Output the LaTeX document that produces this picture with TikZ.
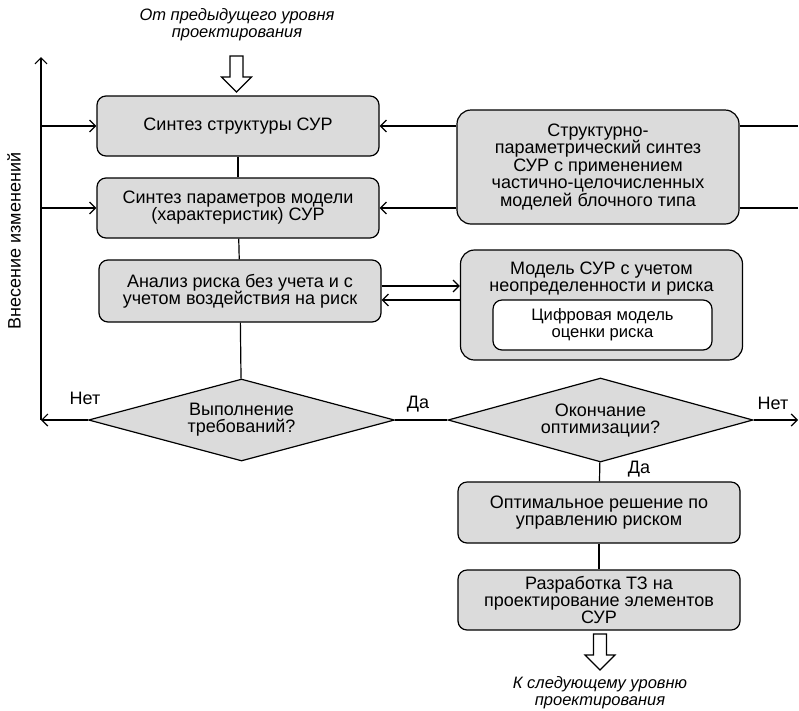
\documentclass[tikz,border=0pt]{standalone}
\usepackage{fontspec}
\setmainfont{Liberation Sans}
\usetikzlibrary{shapes.geometric, arrows.meta}
\newcommand\boxfont{\fontsize{18}{17}\selectfont\lineskiplimit=-20pt\relax}
\newcommand\synthfont{\fontsize{18}{17.5}\selectfont\lineskiplimit=-20pt\relax}
\tikzset{
  block/.style={
    draw,
    line width=1.2pt,
    fill=black!14,
    rounded corners=9pt,
    minimum width=282pt,
    minimum height=60pt,
    align=center,
    font=\boxfont
  },
  decision/.style={
    draw,
    line width=1.2pt,
    fill=black!14,
    diamond,
    aspect=3.7,
    inner sep=0pt,
    minimum width=306pt,
    minimum height=82pt,
    align=center,
    font=\boxfont
  },
  link/.style={line width=1.2pt},
  flow/.style={
    line width=1.2pt,
    -{Straight Barb[length=6pt,width=12pt]}
  },
  answer/.style={font=\boxfont},
  level/.style={font=\fontsize{16.5}{17}\selectfont\itshape, align=center},
  hollowarrow/.pic={
    \draw[line width=1.2pt, fill=white] (-6.5,0) -- (6.5,0) -- (6.5,21) -- (15,21)
      -- (0,36) -- (-15,21) -- (-6.5,21) -- cycle;
  }
}

\begin{document}
\begin{tikzpicture}[x=1pt, y=-1pt]
  \useasboundingbox (0,0) rectangle (799,710);

  % main chain
  \node[level] (from) at (237,25) {От предыдущего уровня\\проектирования};
  \pic at (236.5,56) {hollowarrow};
  \node[block] (struct) at (238,126) {Синтез структуры СУР};
  \node[block] (params) at (238,208) {Синтез параметров модели\\(характеристик) СУР};
  \node[block, minimum height=62pt] (risk) at (240,291) {Анализ риска без учета и с\\учетом воздействия на риск};
  \node[decision] (req) at (241.5,420) {Выполнение\\требований?};

  % right column
  \node[block, minimum height=114pt, rounded corners=14pt, font=\synthfont] (synth) at (598,167)
    {Структурно-\\параметрический синтез\\СУР с применением\\частично-целочисленных\\моделей блочного типа};
  \node[block, minimum height=110pt, rounded corners=14pt, text depth=57pt] (model) at (601.5,305)
    {Модель СУР с учетом\\неопределенности и риска};
  \node[block, fill=white, minimum width=219pt, minimum height=50pt,
        font=\fontsize{16.6}{17}\selectfont] (digital) at (602.5,325)
    {Цифровая модель\\оценки риска};
  \node[decision, minimum width=305pt, minimum height=84pt] (optim) at (600.5,420) {Окончание\\оптимизации?};
  \node[block, minimum height=61pt] (best) at (599,512.5) {Оптимальное решение по\\управлению риском};
  \node[block] (spec) at (599,600) {Разработка ТЗ на\\проектирование элементов\\СУР};
  \pic at (600,634) {hollowarrow};
  \node[level] (to) at (600,693) {К следующему уровню\\проектирования};

  % feedback loop
  \coordinate (top) at (41,57);
  \coordinate (edge) at (798,0);
  \node[answer, rotate=90] (change) at (14,241) {Внесение изменений};

  \draw[link] (struct) -- (params);
  \draw[link] (params) -- (risk);
  \draw[link] (risk) -- (req);
  \draw[flow] (req.west) -- (top |- req.west);
  \draw[flow] (top |- req.west) -- (top);
  \draw[flow] (top |- struct.west) -- (struct.west);
  \draw[flow] (top |- params.west) -- (params.west);
  \draw[flow] (synth.west |- struct.east) -- (struct.east);
  \draw[flow] (synth.west |- params.east) -- (params.east);
  \draw[link] (synth.east |- struct.east) -- (edge |- struct.east);
  \draw[link] (synth.east |- params.east) -- (edge |- params.east);
  \draw[flow] ([yshift=5pt]risk.east) -- ([yshift=5pt]risk.east -| model.west);
  \draw[flow] ([yshift=-9pt]risk.east -| model.west) -- ([yshift=-9pt]risk.east);
  \draw[link] (req.east) -- (optim.west);
  \draw[flow] (optim.east) -- (edge |- optim.east);
  \draw[link] (optim) -- (best);
  \draw[link] (best) -- (spec);

  \node[answer] (no1) at (85,398) {Нет};
  \node[answer] (yes1) at (418,404) {Да};
  \node[answer] (no2) at (773,403) {Нет};
  \node[answer] (yes2) at (639,469) {Да};
\end{tikzpicture}
\end{document}
